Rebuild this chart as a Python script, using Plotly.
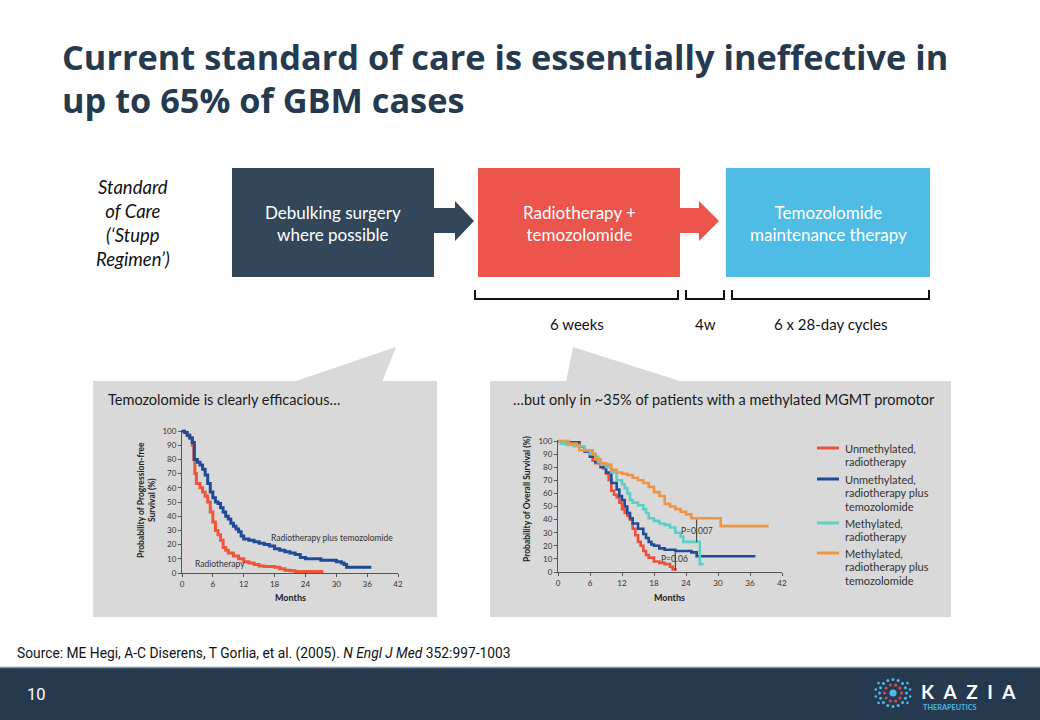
import numpy as np
import plotly.graph_objects as go

W, H = 1040, 720
BODY = "Lato"
CHART = "Lato"
NAVY = "#263a4f"

# ---- left chart: progression-free survival (months, %)
pfs_rt_months = [0, 0.5, 1, 1.5, 2, 2.3, 2.5, 2.8, 3.5, 4, 4.5, 5, 5.5, 6, 6.5, 7, 7.5, 8, 8.5, 9,
                 10, 11, 12, 13, 14, 15, 16, 18, 19, 20, 21, 22, 27.5]
pfs_rt = [100, 99, 97, 95, 90, 80, 70, 63, 60, 57, 54, 50, 43, 36, 30, 27, 23, 18, 16, 14,
          12, 10, 8, 7, 6, 5, 4.5, 4, 3, 2, 1.5, 1, 1]
pfs_tmz_months = [0, 0.5, 1, 1.5, 2, 2.4, 3, 3.5, 4, 4.5, 5, 5.5, 6, 6.5, 7, 7.5, 8, 8.5, 9, 9.5,
                  10, 10.5, 11, 11.5, 12, 13, 14, 15, 16, 17, 18, 19, 20, 21, 22, 23, 24, 27, 29, 30,
                  31, 31.5, 32, 36.8]
pfs_tmz = [100, 99, 97, 95, 92, 80, 78, 76, 73, 69, 63, 57, 53, 50, 49, 46, 43, 40, 38, 35,
           33, 31, 29, 26, 24, 23, 22, 21, 20, 19, 17, 16, 15, 14, 13, 11, 10, 9, 9, 8,
           7, 6, 4, 4]

# ---- right chart: overall survival by MGMT status (months, %)
os_u_rt_months = [0, 2, 4, 5, 6, 6.5, 7, 8, 8.5, 9, 9.5, 10, 10.5, 11, 11.5, 12, 12.5, 13, 13.5, 14,
                  14.5, 15, 15.5, 16, 16.5, 17, 18, 19, 20, 21, 21.5, 22]
os_u_rt = [100, 99, 96, 92, 88, 85, 83, 81, 79, 75, 70, 62, 59, 57, 53, 48, 45, 43, 40, 33,
           28, 23, 20, 16, 13, 11, 8, 7, 6, 4, 2, 1]
os_u_tmz_months = [0, 2, 4, 5, 6, 7, 8, 9, 10, 11, 11.5, 12, 12.5, 13, 13.5, 14, 15, 16, 16.5, 17,
                   17.5, 18, 19, 20, 22, 25, 26, 37]
os_u_tmz = [100, 99, 96, 92, 88, 84, 80, 76, 68, 63, 58, 55, 50, 45, 41, 37, 33, 29, 26, 23,
            21, 20, 18, 17, 16, 15, 12, 12]
os_m_rt_months = [0, 0.5, 1.5, 3, 5, 6, 7, 7.5, 8, 9, 10, 11, 12, 12.5, 13, 13.5, 14, 15, 16, 16.5,
                  17, 18, 19, 20, 21, 22, 23, 23.5, 26.6, 27.3]
os_m_rt = [100, 98, 97, 96, 93, 90, 88, 84, 82, 80, 76, 70, 67, 64, 60, 55, 53, 51, 48, 45,
           41, 39, 37, 36, 34, 30, 27, 23, 6, 6]
os_m_tmz_months = [0, 2, 3.5, 4, 6.5, 7, 8, 9, 10, 11, 12, 13, 14, 15, 16, 17, 18, 19, 20, 21,
                   22, 23, 24, 25, 30.5, 39.5]
os_m_tmz = [100, 98, 97, 93, 90, 86, 83, 82, 78, 76, 75, 74, 72, 70, 68, 65, 61, 58, 52, 50,
            48, 46, 44, 41, 35, 35]

month_ticks = [0, 6, 12, 18, 24, 30, 36, 42]
pct_ticks = [0, 10, 20, 30, 40, 50, 60, 70, 80, 90, 100]

os_names = [["Unmethylated,", "radiotherapy"],
            ["Unmethylated,", "radiotherapy plus", "temozolomide"],
            ["Methylated,", "radiotherapy"],
            ["Methylated,", "radiotherapy plus", "temozolomide"]]
os_colors = ["#f0503a", "#1f4d9a", "#5ccfc6", "#ef9444"]

steps = ["Debulking surgery<br>where possible", "Radiotherapy +<br>temozolomide",
         "Temozolomide<br>maintenance therapy"]
step_colors = ["#33475b", "#eb554b", "#4fbce6"]
durations = ["6 weeks", "4w", "6 x 28-day cycles"]


def px(x):
    return x / W


def py(y):
    return 1 - y / H


def path(pts, close=True):
    s = "M " + " L ".join(f"{px(x):.5f},{py(y):.5f}" for x, y in pts)
    return s + (" Z" if close else "")


def text(x, y, s, size, color="#222", xanchor="center", yanchor="middle", family=BODY, **kw):
    fig.add_annotation(x=px(x), y=py(y), xref="paper", yref="paper", text=s, showarrow=False,
                       font=dict(size=size, color=color, family=family),
                       xanchor=xanchor, yanchor=yanchor, **kw)


def rect(x0, y0, x1, y1, color):
    fig.add_shape(type="rect", xref="paper", yref="paper", x0=px(x0), x1=px(x1),
                  y0=py(y1), y1=py(y0), fillcolor=color, line_width=0, layer="below")


fig = go.Figure()

fig.add_trace(go.Scatter(x=pfs_rt_months, y=pfs_rt, mode="lines", line_shape="hv",
                         line=dict(color="#f0553a", width=3), xaxis="x", yaxis="y"))
fig.add_trace(go.Scatter(x=pfs_tmz_months, y=pfs_tmz, mode="lines", line_shape="hv",
                         line=dict(color="#1f4a97", width=3), xaxis="x", yaxis="y"))

os_series = [(os_u_rt_months, os_u_rt), (os_u_tmz_months, os_u_tmz),
             (os_m_rt_months, os_m_rt), (os_m_tmz_months, os_m_tmz)]
for (mx, my), c in zip(os_series, os_colors):
    fig.add_trace(go.Scatter(x=mx, y=my, mode="lines", line_shape="hv",
                             line=dict(color=c, width=2.6), xaxis="x2", yaxis="y2"))

axis_style = dict(range=[0, 42], tickvals=month_ticks, ticks="outside", ticklen=3,
                  tickcolor="#555", showline=True, linecolor="#555", linewidth=1,
                  showgrid=False, zeroline=False, tickfont=dict(size=8, color="#333", family=CHART))
yaxis_style = dict(range=[0, 101], tickvals=pct_ticks, ticks="outside", ticklen=3,
                   tickcolor="#555", showline=True, linecolor="#555", linewidth=1,
                   showgrid=False, zeroline=False, tickfont=dict(size=8, color="#333", family=CHART))

fig.update_layout(
    width=W, height=H, margin=dict(l=0, r=0, t=0, b=0, autoexpand=False),
    paper_bgcolor="white", plot_bgcolor="rgba(0,0,0,0)", showlegend=False,
    xaxis=dict(domain=[px(182), px(398)], anchor="y", **axis_style),
    yaxis=dict(domain=[py(573), py(429.6)], anchor="x", **yaxis_style),
    xaxis2=dict(domain=[px(558), px(782)], anchor="y2", **axis_style),
    yaxis2=dict(domain=[py(572), py(439.7)], anchor="x2", **yaxis_style),
)

# ---- title
text(60, 57, "<b>Current standard of care is essentially ineffective in</b>", 34.3, NAVY,
     xanchor="left", family="Open Sans")
text(60, 100, "<b>up to 65% of GBM cases</b>", 34.3, NAVY, xanchor="left", family="Open Sans")

# ---- standard of care flow
text(133, 223, "<i>Standard<br>of Care<br>(‘Stupp<br>Regimen’)</i>", 18.5, "#111")
box_x = [(232, 434), (478, 680), (726, 930)]
for (x0, x1), c, s in zip(box_x, step_colors, steps):
    rect(x0, 168, x1, 277, c)
    text((x0 + x1) / 2, 223, s, 17, "white")

for (xs, xh, xt), c in zip([(434, 455, 474), (680, 699, 719)], step_colors[:2]):
    fig.add_shape(type="path", xref="paper", yref="paper", fillcolor=c, line_width=0,
                  path=path([(xs, 208), (xh, 208), (xh, 201), (xt, 221), (xh, 241),
                             (xh, 233), (xs, 233)]))

brackets = [(475, 678), (686, 724), (732, 929)]
for (x0, x1), s in zip(brackets, durations):
    fig.add_shape(type="path", xref="paper", yref="paper", line=dict(color="#111", width=2),
                  path=path([(x0, 290), (x0, 299), (x1, 299), (x1, 290)], close=False))
    text((x0 + x1) / 2, 324, s, 15, "#111")

# ---- grey call-out panels
rect(93, 381, 437, 617, "#d9d9d9")
rect(490, 381, 951, 617, "#d9d9d9")
fig.add_shape(type="path", xref="paper", yref="paper", fillcolor="#d9d9d9", line_width=0,
              layer="below", path=path([(293, 382), (396, 347), (382, 382)]))
fig.add_shape(type="path", xref="paper", yref="paper", fillcolor="#d9d9d9", line_width=0,
              layer="below", path=path([(566, 382), (573, 347), (683, 382)]))
text(106, 399, "Temozolomide is clearly efficacious…", 14.5, "#1a1a1a", xanchor="left")
text(511, 399, "…but only in ~35% of patients with a methylated MGMT promotor", 14.5, "#1a1a1a",
     xanchor="left")

# ---- chart labels
text(146, 500, "<b>Probability of Progression-free<br>Survival (%)</b>", 8.5, "#222",
     family=CHART, textangle=-90)
text(290, 597, "<b>Months</b>", 9, "#222", family=CHART)
text(527, 499, "<b>Probability of Overall Survival (%)</b>", 8.5, "#222", family=CHART,
     textangle=-90)
text(669, 597, "<b>Months</b>", 9, "#222", family=CHART)

fig.add_annotation(x=16.9, y=25, xref="x", yref="y", text="Radiotherapy plus temozolomide",
                   showarrow=False, xanchor="left", font=dict(size=8.5, color="#333", family=CHART))
fig.add_annotation(x=2.1, y=6, xref="x", yref="y", text="Radiotherapy",
                   showarrow=False, xanchor="left", font=dict(size=8.5, color="#333", family=CHART))

fig.add_shape(type="line", xref="x2", yref="y2", x0=26, x1=26, y0=23, y1=40,
              line=dict(color="#333", width=1))
fig.add_shape(type="line", xref="x2", yref="y2", x0=22, x1=22, y0=1, y1=15,
              line=dict(color="#333", width=1))
fig.add_annotation(x=26.1, y=31.5, xref="x2", yref="y2", text="P=0.007", showarrow=False,
                   font=dict(size=8.5, color="#333", family=CHART))
fig.add_annotation(x=21.9, y=10, xref="x2", yref="y2", text="P=0.06", showarrow=False,
                   font=dict(size=8.5, color="#333", family=CHART))

# ---- manual legend (one annotation per line for tight spacing)
legend_y = [448, 479, 523, 553]
for yy, c, lines in zip(legend_y, os_colors, os_names):
    fig.add_shape(type="line", xref="paper", yref="paper", x0=px(817), x1=px(839),
                  y0=py(yy), y1=py(yy), line=dict(color=c, width=3))
    for i, s in enumerate(lines):
        text(843, yy + 13.7 * i, s, 11, "#333", xanchor="left", family=CHART)

# ---- source and footer
text(15, 653, "Source: ME Hegi, A-C Diserens, T Gorlia, et al. (2005). <i>N Engl J Med</i> 352:997-1003",
     13.8, "#111", xanchor="left", family="Roboto")
rect(0, 668, W, H, "#253a4f")
fig.add_shape(type="line", xref="paper", yref="paper", x0=0, x1=1, y0=py(667.5), y1=py(667.5),
              line=dict(color="#8391a0", width=1.5))
text(25, 694, "10", 16.5, "white", xanchor="left", family="Roboto")


def dot(cx, cy, r, color):
    fig.add_shape(type="circle", xref="paper", yref="paper", x0=px(cx - r), x1=px(cx + r),
                  y0=py(cy + r), y1=py(cy - r), fillcolor=color, line_width=0)


cx, cy = 893, 693
dot(cx, cy, 3.6, "#4fb8e6")
for a in np.linspace(0, 2 * np.pi, 10, endpoint=False):
    dot(cx + 8.5 * np.cos(a), cy + 8.5 * np.sin(a), 1.5, "#e0474c")
for a in np.linspace(0, 2 * np.pi, 16, endpoint=False):
    dot(cx + 13.5 * np.cos(a), cy + 13.5 * np.sin(a), 1.5, "#4fb8e6")
for a in np.linspace(-0.6, 0.6, 4):
    for side in (1, -1):
        dot(cx + side * 17.5 * np.cos(a), cy + 17.5 * np.sin(a), 1.3, "#4fb8e6")

text(919, 691, "<b>K\u2002A\u2002Z\u2002I\u2002A</b>", 19, "white", xanchor="left", family="Lato")
text(921, 707, "<b>THERAPEUTICS</b>", 7.3, "#4fb8e6", xanchor="left", family="Lato")

# the page's default body margin would shift the slide by 8px
fig.write_html("out.html", config={"displayModeBar": False},
               post_script="document.body.style.margin = '0';")
